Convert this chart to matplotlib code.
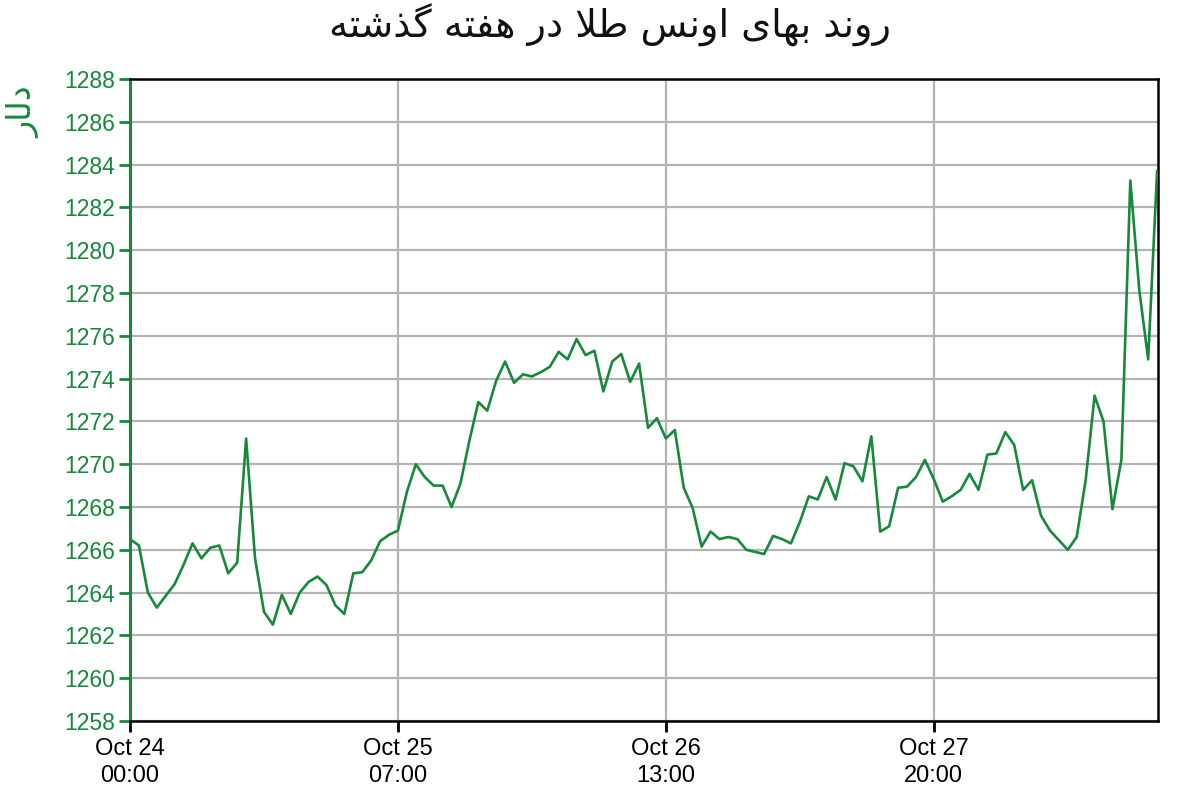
import matplotlib
matplotlib.use("Agg")
import matplotlib.pyplot as plt

# gold ounce price, one reading per step (30 steps between date ticks)
price = [
    1266.5, 1266.2, 1264.0, 1263.3, 1263.85, 1264.4, 1265.3, 1266.3, 1265.6, 1266.1,
    1266.2, 1264.9, 1265.4, 1271.2, 1265.6, 1263.1, 1262.5, 1263.9, 1263.0, 1264.0,
    1264.5, 1264.75, 1264.35, 1263.4, 1263.0, 1264.9, 1264.95, 1265.5, 1266.4, 1266.7,
    1266.9, 1268.7, 1270.0, 1269.4, 1269.0, 1269.0, 1268.0, 1269.1, 1271.1, 1272.9,
    1272.5, 1273.9, 1274.8, 1273.8, 1274.2, 1274.1, 1274.3, 1274.55, 1275.25, 1274.9,
    1275.85, 1275.1, 1275.3, 1273.4, 1274.8, 1275.15, 1273.85, 1274.7, 1271.7, 1272.15,
    1271.2, 1271.6, 1268.9, 1267.95, 1266.15, 1266.85, 1266.5, 1266.6, 1266.5, 1266.0,
    1265.9, 1265.8, 1266.65, 1266.5, 1266.3, 1267.3, 1268.5, 1268.35, 1269.4, 1268.35,
    1270.05, 1269.9, 1269.2, 1271.3, 1266.85, 1267.1, 1268.9, 1268.95, 1269.4, 1270.2,
    1269.3, 1268.25, 1268.5, 1268.8, 1269.55, 1268.8, 1270.45, 1270.5, 1271.5, 1270.9,
    1268.8, 1269.25, 1267.6, 1266.9, 1266.45, 1266.0, 1266.6, 1269.25, 1273.2, 1272.0,
    1267.9, 1270.2, 1283.25, 1278.15, 1274.9, 1283.7,
]
steps = list(range(len(price)))

tick_steps = [0, 30, 60, 90]
tick_labels = ["Oct 24\n00:00", "Oct 25\n07:00", "Oct 26\n13:00", "Oct 27\n20:00"]
y_ticks = list(range(1258, 1289, 2))

# Persian text written in presentation forms, visual (left-to-right) order
title = ("\ufeea\ufe98\ufeb7\ufeac\ufb94 \ufeea\ufe98\ufed4\ufeeb \ufead\ufea9 "
         "\ufefc\ufec3 \ufeb2\ufee7\ufeed\ufe8d \ufeef\ufe8e\ufeec\ufe91 "
         "\ufeaa\ufee7\ufeed\ufead")
ylabel = "\ufead\ufe8e\ufedf\ufea9"

GREEN = "#17893b"
GRID = "#b4b4b4"

plt.rcParams["font.family"] = ["Liberation Sans", "DejaVu Sans"]

fig = plt.figure(figsize=(12, 8), dpi=100)
ax = fig.add_axes([130 / 1200, 1 - 721 / 800, 1028 / 1200, 642 / 800])

ax.plot(steps, price, color=GREEN, linewidth=1.9, zorder=3)

ax.set_xlim(0, len(price) - 0.9)
ax.set_ylim(1258, 1288)
ax.set_yticks(y_ticks)
ax.set_xticks(tick_steps)
ax.set_xticklabels(tick_labels)

ax.grid(True, color=GRID, linewidth=1.6, zorder=0)
ax.set_axisbelow(True)

for side in ["top", "right", "bottom"]:
    ax.spines[side].set_color("black")
    ax.spines[side].set_linewidth(1.8)
ax.spines["left"].set_color(GREEN)
ax.spines["left"].set_linewidth(2.2)

ax.tick_params(axis="y", colors=GREEN, labelcolor=GREEN, labelsize=16.5,
               length=8, width=2, direction="out", pad=3)
ax.tick_params(axis="x", colors="black", labelsize=17, length=8, width=2,
               direction="out", pad=4)
for lbl in ax.get_xticklabels():
    lbl.set_linespacing(1.3)

fig.text(0.508, 0.968, title, ha="center", va="center", fontsize=27.5,
         family=["DejaVu Sans"], color="#111111")
fig.text(0.02, 0.86, ylabel, ha="center", va="center", fontsize=24,
         family=["DejaVu Sans"], color=GREEN, rotation=90)

fig.savefig("out.png", dpi=100, facecolor="white")
plt.close(fig)
